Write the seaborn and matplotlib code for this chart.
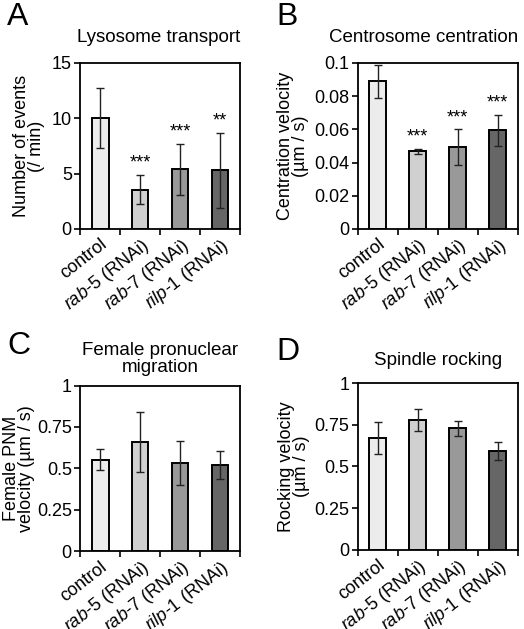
import matplotlib
matplotlib.use("Agg")
import matplotlib.pyplot as plt
import matplotlib.transforms as mtrans
import seaborn as sns
import pandas as pd

# data
groups = ["control", "rab-5", "rab-7", "rilp-1"]
tick_labels = ["control",
               r"$\mathit{rab}$-$\mathit{5}$ (RNAi)",
               r"$\mathit{rab}$-$\mathit{7}$ (RNAi)",
               r"$\mathit{rilp}$-$\mathit{1}$ (RNAi)"]
bar_colors = ["#ececec", "#d0d0d0", "#999999", "#666666"]

lyso_mean = [10.05, 3.55, 5.4, 5.3]
lyso_err = [2.7, 1.3, 2.3, 3.4]
lyso_stars = ["", "***", "***", "**"]

centr_mean = [0.0888, 0.0468, 0.0492, 0.0594]
centr_err = [0.0100, 0.0015, 0.0108, 0.0095]
centr_stars = ["", "***", "***", "***"]

pnm_mean = [0.553, 0.660, 0.530, 0.520]
pnm_err = [0.062, 0.183, 0.132, 0.083]

rock_mean = [0.672, 0.778, 0.728, 0.592]
rock_err = [0.097, 0.068, 0.045, 0.052]

sns.set_style("ticks")
plt.rcParams["font.family"] = ["Liberation Sans", "DejaVu Sans"]
plt.rcParams["mathtext.fontset"] = "custom"
plt.rcParams["mathtext.rm"] = "Liberation Sans"
plt.rcParams["mathtext.it"] = "Liberation Sans:italic"
plt.rcParams["text.color"] = "black"
plt.rcParams["xtick.color"] = "black"
plt.rcParams["ytick.color"] = "black"
plt.rcParams["axes.labelcolor"] = "black"

fig = plt.figure(figsize=(5.24, 6.29), dpi=100)

# (letter, axes rect, letter position, title x, title pad, ylabel pad, ...)
panels = [
    ("A", [0.153, 0.636, 0.305, 0.264], (0.014, 0.973), 0.49, 15, 5, lyso_mean, lyso_err, lyso_stars,
     "Lysosome transport", "Number of events\n(/ min)", 15, [0, 5, 10, 15], ["0", "5", "10", "15"]),
    ("B", [0.683, 0.636, 0.305, 0.264], (0.528, 0.973), 0.41, 15, 4, centr_mean, centr_err, centr_stars,
     "Centrosome centration", "Centration velocity\n(µm / s)", 0.1,
     [0, 0.02, 0.04, 0.06, 0.08, 0.1], ["0", "0.02", "0.04", "0.06", "0.08", "0.1"]),
    ("C", [0.153, 0.124, 0.305, 0.263], (0.014, 0.450), 0.5, 10, 1, pnm_mean, pnm_err, None,
     "Female pronuclear\nmigration", "Female PNM\nvelocity (µm / s)", 1,
     [0, 0.25, 0.5, 0.75, 1], ["0", "0.25", "0.5", "0.75", "1"]),
    ("D", [0.683, 0.126, 0.305, 0.265], (0.528, 0.440), 0.5, 13, 3, rock_mean, rock_err, None,
     "Spindle rocking", "Rocking velocity\n(µm / s)", 1,
     [0, 0.25, 0.5, 0.75, 1], ["0", "0.25", "0.5", "0.75", "1"]),
]

label_shift = [4, 18, 18, 23]  # px, label end offset from bar centre

for (letter, pos, lpos, tx, tpad, ypad, mean, err, stars,
     title, ylabel, ymax, yticks, ylabels) in panels:
    ax = fig.add_axes(pos)
    df = pd.DataFrame({"group": groups, "value": mean})
    sns.barplot(data=df, x="group", y="value", hue="group", palette=bar_colors,
                legend=False, width=0.42, edgecolor="black", linewidth=1.4, ax=ax)
    ax.errorbar(range(len(groups)), mean, yerr=err, fmt="none", ecolor="#222222",
                elinewidth=1.0, capsize=3, capthick=1.0)
    if stars:
        for i, s in enumerate(stars):
            if s:
                ax.text(i, mean[i] + err[i] + ymax * 0.02, s, ha="center", va="bottom",
                        fontsize=13)
    ax.set_xlim(-0.5, 3.5)
    ax.set_ylim(0, ymax)
    ax.set_yticks(yticks, ylabels, fontsize=13)
    ax.set_xticks(range(4), tick_labels, rotation=38, ha="right",
                  rotation_mode="anchor", fontsize=13)
    for lab, dx in zip(ax.get_xticklabels(), label_shift):
        lab.set_transform(lab.get_transform() +
                          mtrans.ScaledTranslation(dx / 100, 0, fig.dpi_scale_trans))
    ax.set_xticks([-0.5, 0.5, 1.5, 2.5, 3.5], minor=True)
    ax.tick_params(axis="x", which="major", length=0, pad=5)
    ax.tick_params(axis="x", which="minor", length=4, width=1.2, direction="out")
    ax.tick_params(axis="y", length=4, width=1.2, direction="out", pad=2)
    for sp in ax.spines.values():
        sp.set_linewidth(1.3)
        sp.set_color("black")
    ax.set_xlabel("")
    ax.set_ylabel(ylabel, fontsize=13, linespacing=0.85, labelpad=ypad)
    ax.set_title(title, fontsize=13.5, pad=tpad, linespacing=1.0, x=tx)
    fig.text(lpos[0], lpos[1], letter, fontsize=23, ha="left", va="center")

fig.savefig("out.png", dpi=100)
